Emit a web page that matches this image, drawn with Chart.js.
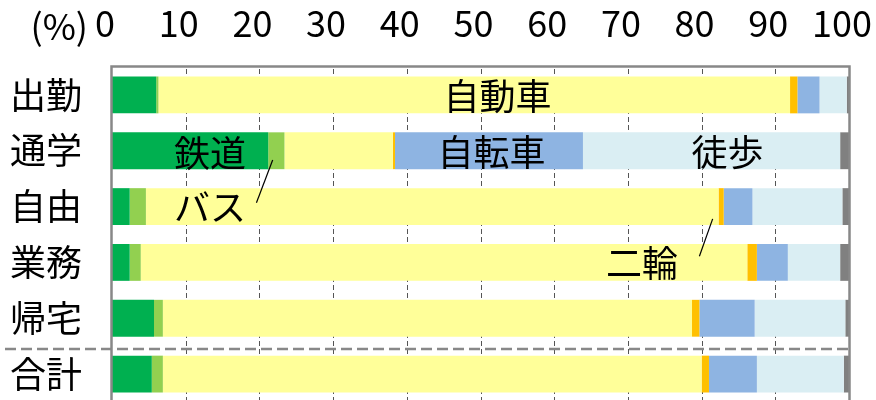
<!DOCTYPE html>
<html>
<head>
<meta charset="utf-8">
<script src="https://cdn.jsdelivr.net/npm/chart.js@4"></script>
<style>
  html, body { margin: 0; padding: 0; background: #fff; overflow: hidden; }
  #wrap { position: absolute; left: 0; top: 0; width: 876px; height: 402px; }
</style>
</head>
<body>
<div id="wrap"><canvas id="c" width="876" height="402"></canvas></div>
<script>
/* 目的別 代表交通手段構成比 (%) — horizontal 100% stacked bars */

const categories = ["出勤", "通学", "自由", "業務", "帰宅", "合計"];
const modes = ["鉄道", "バス", "自動車", "二輪", "自転車", "徒歩", "その他"];

const rail    = [6.0, 21.2,  2.4,  2.4,  5.7,  5.4];
const bus     = [0.3,  2.2,  2.2,  1.5,  1.2,  1.5];
const car     = [85.7, 14.7, 77.7, 82.3, 71.8, 73.1];
const moto    = [1.0,  0.3,  0.7,  1.3,  1.0,  1.0];
const bicycle = [3.0, 25.5,  3.9,  4.2,  7.5,  6.5];
const walk    = [3.7, 34.9, 12.2,  7.1, 12.3, 11.8];
const other   = [0.3,  1.2,  0.9,  1.2,  0.5,  0.7];

const xTicks = [0, 10, 20, 30, 40, 50, 60, 70, 80, 90, 100];

// in-bar labels, placed in data space (x = %, y = category index)
const labels = [
  { t: "自動車", x: 52.3, y: 0.03 },
  { t: "鉄道",   x: 13.3, y: 1.04 },
  { t: "自転車", x: 51.5, y: 1.03 },
  { t: "徒歩",   x: 83.5, y: 1.03 },
  { t: "バス",   x: 13.3, y: 2.02 },
  { t: "二輪",   x: 71.9, y: 3.01 },
];
// leader lines [x1, y1, x2, y2] in data space
const leaders = [
  [19.6, 1.93, 21.8, 1.165],
  [81.5, 2.22, 79.7, 2.89],
];

const COLORS = ["#00b050", "#92d050", "#ffff99", "#ffc000", "#8eb4e2", "#daeef3", "#808080"];
const series = [rail, bus, car, moto, bicycle, walk, other];

const FONT = "'Noto Sans CJK JP', 'Noto Sans', sans-serif";

const extras = {
  id: "extras",
  beforeDatasetsDraw(chart) {
    // dashed vertical gridlines (inner ticks only; 0 and 100 are the frame)
    const { ctx, chartArea: a, scales: { x } } = chart;
    ctx.save();
    ctx.strokeStyle = "#555"; ctx.lineWidth = 1; ctx.setLineDash([5, 3]);
    xTicks.filter(v => v > 0 && v < 100).forEach(v => {
      const px = Math.round(x.getPixelForValue(v)) + 0.5;
      ctx.beginPath(); ctx.moveTo(px, a.top + 2); ctx.lineTo(px, a.bottom); ctx.stroke();
    });
    ctx.restore();
  },
  afterDatasetsDraw(chart) {
    const { ctx, chartArea: a, scales: { x, y } } = chart;
    ctx.save();
    // frame
    ctx.strokeStyle = "#888";
    ctx.lineWidth = 2.5;
    ctx.strokeRect(a.left - 0.5, a.top - 0.5, a.right - a.left + 1, a.bottom - a.top + 5);
    // 合計 separator
    const sy = y.getPixelForValue(4.55);
    ctx.setLineDash([11, 5]);
    ctx.lineWidth = 2.5;
    ctx.beginPath(); ctx.moveTo(5, sy); ctx.lineTo(a.right, sy); ctx.stroke();
    ctx.setLineDash([]);
    // leaders
    ctx.strokeStyle = "#000"; ctx.lineWidth = 1.2;
    leaders.forEach(l => {
      ctx.beginPath();
      ctx.moveTo(x.getPixelForValue(l[0]), y.getPixelForValue(l[1]));
      ctx.lineTo(x.getPixelForValue(l[2]), y.getPixelForValue(l[3]));
      ctx.stroke();
    });
    // labels
    ctx.fillStyle = "#000";
    ctx.font = "36px " + FONT;
    ctx.textAlign = "center"; ctx.textBaseline = "middle";
    labels.forEach(l => ctx.fillText(l.t, x.getPixelForValue(l.x), y.getPixelForValue(l.y)));
    // unit
    ctx.textAlign = "right";
    ctx.fillText("(%)", 88, 26);
    ctx.restore();
  },
};

new Chart(document.getElementById("c"), {
  type: "bar",
  data: {
    labels: categories,
    datasets: series.map((d, i) => ({
      label: modes[i], data: d, backgroundColor: COLORS[i],
      borderWidth: 0, categoryPercentage: 1, barPercentage: 0.66,
    })),
  },
  options: {
    indexAxis: "y", responsive: false, animation: false,
    layout: { padding: { left: 0, right: 27, top: 0, bottom: 0 } },
    plugins: { legend: { display: false }, tooltip: { enabled: false } },
    scales: {
      x: {
        position: "top", stacked: true, min: 0, max: 100,
        afterBuildTicks(s) { s.ticks = xTicks.map(v => ({ value: v })); },
        afterFit(s) { s.height = 67; s.paddingLeft = 0; s.paddingRight = 0; },
        ticks: { font: { family: FONT, size: 36 }, color: "#000", padding: 22, labelOffset: -7, maxRotation: 0, autoSkip: false },
        grid: { display: false, drawTicks: false },
        border: { display: false },
      },
      y: {
        stacked: true,
        afterFit(s) { s.width = 112; s.paddingTop = 0; s.paddingBottom = 0; },
        ticks: { font: { family: FONT, size: 36 }, color: "#000", padding: 30 },
        grid: { display: false, drawTicks: false },
        border: { display: false },
      },
    },
  },
  plugins: [extras],
});
</script>
</body>
</html>
